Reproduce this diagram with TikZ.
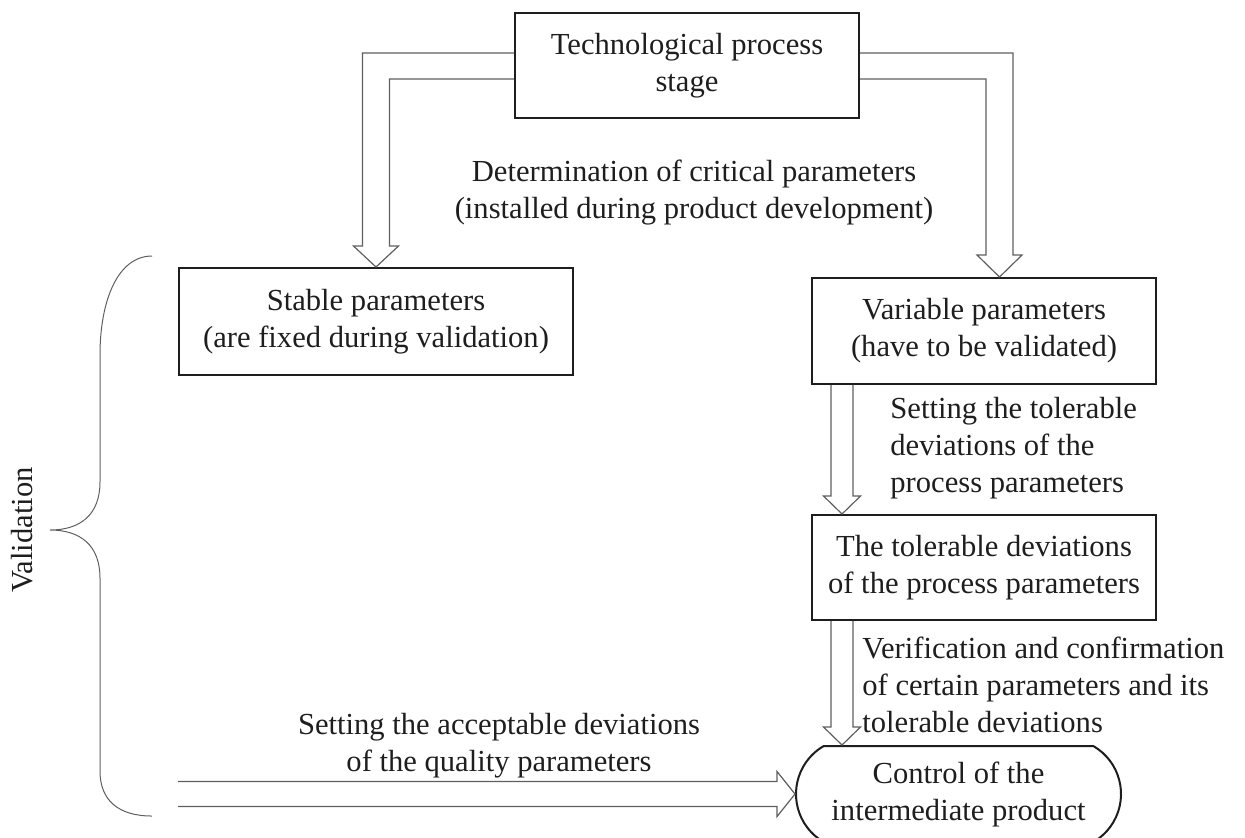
\documentclass[tikz,border=0pt]{standalone}
\usepackage{fontspec}
\setmainfont{Liberation Serif}
\usepackage{tikz}
\usetikzlibrary{positioning, calc, shapes.misc}
\definecolor{inkblack}{RGB}{30, 30, 30}
\definecolor{shaftgray}{RGB}{95, 95, 95}

\tikzset{
    stagebox/.style={draw=inkblack, line width=1pt, minimum height=52.5pt,
                     inner sep=2pt, align=center, text=inkblack},
    shaft/.style={draw=shaftgray, line width=0.6pt, line join=miter},
    labeltext/.style={text=inkblack, inner sep=0pt},
    validbrace/.style={draw=shaftgray, line width=0.5pt},
}

\begin{document}
\begin{tikzpicture}[x=0.5pt, y=-0.5pt, font=\fontsize{15.3}{18.5}\selectfont]
    \useasboundingbox (0,0) rectangle (1245,837);

    % Nodes
    \node[stagebox, minimum width=172pt] (tech) at (687,65.5) {Technological process\\stage};

    \node[stagebox, minimum width=197pt, minimum height=53.5pt] (stable) at (376,321.5)
        {Stable parameters\\(are fixed during validation)};

    \node[stagebox, minimum width=172pt, minimum height=53pt] (variable) at (984,331)
        {Variable parameters\\(have to be validated)};

    \node[stagebox, minimum width=172pt, below=64.5pt of variable] (tolerable)
        {The tolerable deviations\\of the process parameters};

    \node[draw=inkblack, line width=1pt, rounded rectangle, rounded rectangle arc length=120,
          minimum width=166.5pt, minimum height=48pt, inner sep=2pt, align=center,
          text=inkblack] (control) at (958.5,794) {Control of the\\intermediate product};

    % Labels
    \node[labeltext, align=center] (crit) at (694,193)
        {Determination of critical parameters\\(installed during product development)};
    \node[labeltext, align=left, anchor=west] (settol) at (890,448)
        {Setting the tolerable\\deviations of the\\process parameters};
    \node[labeltext, align=left, anchor=west] (verif) at (862,684.5)
        {Verification and confirmation\\of certain parameters and its\\tolerable deviations};
    \node[labeltext, align=center] (setacc) at (499,746)
        {Setting the acceptable deviations\\of the quality parameters};
    \node[labeltext, rotate=90] (valid) at (22,530) {Validation};

    % Hollow arrows
    \coordinate (tipL) at (stable.north);
    \draw[shaft] ($(tech.west)+(0,-12.5)$) -| ($(tipL)+(-13.5,-21)$) -- ++(-9,0) -- (tipL)
        -- ++(22.5,-21) -- ++(-9,0) |- ($(tech.west)+(0,13.5)$);

    \coordinate (tipR) at ($(variable.north)+(15.5,0)$);
    \draw[shaft] ($(tech.east)+(0,-12.5)$) -| ($(tipR)+(13.5,-22)$) -- ++(9,0) -- (tipR)
        -- ++(-22.5,-22) -- ++(9,0) |- ($(tech.east)+(0,13.5)$);

    \coordinate (topV) at ($(variable.south west)+(31,0)$);
    \coordinate (tipV) at (topV |- tolerable.north);
    \draw[shaft] ($(topV)+(-11,0)$) -- ($(tipV)+(-11,-18)$) -- ++(-7.5,0) -- (tipV)
        -- ++(18.5,-18) -- ++(-7.5,0) -- ($(topV)+(11,0)$);

    \coordinate (topT) at ($(tolerable.south west)+(31,0)$);
    \coordinate (tipT) at (topT |- control.north);
    \draw[shaft] ($(topT)+(-11,0)$) -- ($(tipT)+(-11,-18)$) -- ++(-7.5,0) -- (tipT)
        -- ++(18.5,-18) -- ++(-7.5,0) -- ($(topT)+(11,0)$);

    \coordinate (accstart) at ($(control.west)+(-617,0)$);
    \draw[shaft] ($(accstart)+(0,-12.5)$) -- ($(control.west)+(-18,-12.5)$) -- ++(0,-10)
        -- (control.west) -- ++(-18,22.5) -- ++(0,-10) -- ($(accstart)+(0,12.5)$);

    % Brace
    \draw[validbrace] (152,256) .. controls (118,256) and (100,300) .. (100,355) -- (100,482)
        .. controls (100,515) and (80,530) .. (50,530) .. controls (80,530) and (100,545) .. (100,578)
        -- (100,771) .. controls (100,800) and (118,816) .. (152,816);
\end{tikzpicture}
\end{document}
